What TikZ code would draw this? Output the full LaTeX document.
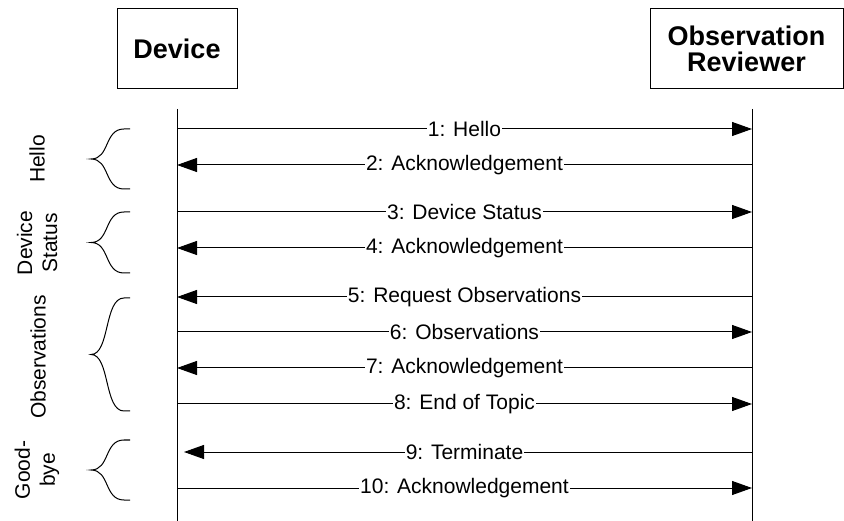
\documentclass[tikz,border=0pt]{standalone}
\usepackage{fontspec}
\setmainfont{Liberation Sans}
\usetikzlibrary{arrows.meta}
\newcommand{\phasebrace}[2]{% top y, bottom y
  \draw[line width=1pt] (130,#1) -- (124,#1) .. controls (104,#1) and (110,{(#1+#2)/2}) .. (91,{(#1+#2)/2})
    .. controls (110,{(#1+#2)/2}) and (104,#2) .. (124,#2) -- (130,#2);}
\tikzset{
  actor/.style={draw, line width=1pt, rectangle, minimum height=80pt, align=center, font=\fontsize{27}{26}\selectfont\bfseries},
  msg/.style={line width=1pt, -{Triangle[length=20pt,width=14pt]}},
  msglabel/.style={fill=white, inner sep=1pt, font=\fontsize{21}{24}\selectfont},
  phase/.style={rotate=90, align=center, font=\fontsize{21}{25}\selectfont}
}
\begin{document}
\begin{tikzpicture}[x=1pt,y=-1pt]
\useasboundingbox (0,0) rectangle (844,521);
\node[actor, minimum width=120pt] (device) at (177,49) {Device};
\node[actor, minimum width=193pt] (reviewer) at (746.5,49) {Observation\\Reviewer};
% lifelines
\coordinate (devtop) at (177,109);
\coordinate (devbot) at (177,521);
\coordinate (revtop) at (752,109);
\coordinate (revbot) at (752,521);
\draw[line width=1pt] (devtop) -- (devbot);
\draw[line width=1pt] (revtop) -- (revbot);
\foreach \i/\y in {1/129,2/165,3/212,4/248,5/297,6/332,7/368,8/404,9/452,10/488} {
  \coordinate (d\i) at (177,\y);
  \coordinate (r\i) at (752,\y);
}
% messages
\draw[msg] (d1) -- node[msglabel] {1: Hello} (r1);
\draw[msg] (r2) -- node[msglabel] {2: Acknowledgement} (d2);
\draw[msg] (d3) -- node[msglabel] {3: Device Status} (r3);
\draw[msg] (r4) -- node[msglabel] {4: Acknowledgement} (d4);
\draw[msg] (r5) -- node[msglabel] {5: Request Observations} (d5);
\draw[msg] (d6) -- node[msglabel] {6: Observations} (r6);
\draw[msg] (r7) -- node[msglabel] {7: Acknowledgement} (d7);
\draw[msg] (d8) -- node[msglabel] {8: End of Topic} (r8);
\draw[msg, shorten >=7pt] (r9) -- node[msglabel] {9: Terminate} (d9);
\draw[msg] (d10) -- node[msglabel] {10: Acknowledgement} (r10);
% phases
\phasebrace{129}{189}
\phasebrace{212}{273}
\phasebrace{298}{411}
\phasebrace{440}{500}
\node[phase] (hello) at (37,159) {Hello};
\node[phase] (status) at (37,243) {Device\\Status};
\node[phase] (obs) at (38,357) {Observations};
\node[phase] (bye) at (37,470) {Good-\\bye};
\end{tikzpicture}
\end{document}
